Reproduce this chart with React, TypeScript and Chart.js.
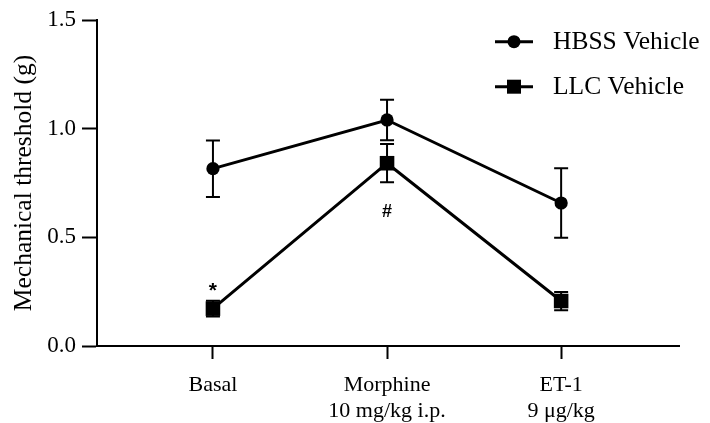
import React, { useEffect, useRef } from 'react';
import { Chart, registerables } from 'chart.js';

Chart.register(...registerables);

// ---- data ----
const categories: string[][] = [['Basal'], ['Morphine', '10 mg/kg i.p.'], ['ET-1', '9 μg/kg']];
const seriesNames = ['HBSS Vehicle', 'LLC Vehicle'];
const hbssMean = [0.816, 1.04, 0.658];
const hbssErr = [0.13, 0.093, 0.16];
const llcMean = [0.172, 0.841, 0.207];
const llcErr = [0.036, 0.088, 0.042];
const yTicks = [0, 0.5, 1.0, 1.5];
const yTitle = 'Mechanical threshold (g)';
// significance marks: [category index, text, series index, side]
const marks: [number, string, number, 'above' | 'below'][] = [
  [0, '*', 1, 'above'],
  [1, '#', 1, 'below'],
];

const SERIF = '"Liberation Serif", "Times New Roman", serif';
const BLACK = '#000';

const errPlugin = {
  id: 'extras',
  beforeDatasetsDraw(chart: any) {
    const { ctx } = chart;
    const xs = chart.scales.x;
    const ys = chart.scales.y;
    const sets = [
      [hbssMean, hbssErr],
      [llcMean, llcErr],
    ];
    ctx.save();
    ctx.strokeStyle = BLACK;
    ctx.lineWidth = 2;
    sets.forEach(([m, e]) => {
      m.forEach((v: number, i: number) => {
        const x = xs.getPixelForValue(i);
        const yt = ys.getPixelForValue(v + e[i]);
        const yb = ys.getPixelForValue(v - e[i]);
        ctx.beginPath();
        ctx.moveTo(x, yt);
        ctx.lineTo(x, yb);
        ctx.moveTo(x - 7, yt);
        ctx.lineTo(x + 7, yt);
        ctx.moveTo(x - 7, yb);
        ctx.lineTo(x + 7, yb);
        ctx.stroke();
      });
    });
    ctx.restore();
  },
  afterDatasetsDraw(chart: any) {
    const { ctx } = chart;
    const xs = chart.scales.x;
    const ys = chart.scales.y;
    const means = [hbssMean, llcMean];
    const errs = [hbssErr, llcErr];
    ctx.save();
    ctx.fillStyle = BLACK;
    ctx.textAlign = 'center';
    marks.forEach(([i, t, s, side]) => {
      const x = xs.getPixelForValue(i);
      if (side === 'above') {
        ctx.font = 'bold 21px "Liberation Sans", Arial, sans-serif';
        ctx.textBaseline = 'top';
        const y = ys.getPixelForValue(means[s][i] + errs[s][i]) - 20;
        ctx.fillText(t, x, y);
      } else {
        ctx.font = 'bold 18px "Liberation Sans", Arial, sans-serif';
        ctx.textBaseline = 'middle';
        const y = ys.getPixelForValue(means[s][i] - errs[s][i]) + 30;
        ctx.fillText(t, x, y);
      }
    });

    // legend
    const lx0 = 495;
    const lx1 = 533;
    const rows = [41.7, 86.7];
    ctx.strokeStyle = BLACK;
    ctx.lineWidth = 3;
    rows.forEach((y, k) => {
      ctx.beginPath();
      ctx.moveTo(lx0, y);
      ctx.lineTo(lx1, y);
      ctx.stroke();
      const cx = (lx0 + lx1) / 2;
      ctx.beginPath();
      if (k === 0) {
        ctx.arc(cx, y, 6.5, 0, Math.PI * 2);
      } else {
        ctx.rect(cx - 7, y - 7, 14, 14);
      }
      ctx.fill();
      ctx.font = `25.5px ${SERIF}`;
      ctx.textAlign = 'left';
      ctx.textBaseline = 'middle';
      ctx.fillText(seriesNames[k], 553, y + 1);
    });
    ctx.restore();
  },
};

export default function App() {
  const ref = useRef<HTMLCanvasElement>(null);
  useEffect(() => {
    if (!ref.current) return;
    const chart = new Chart(ref.current, {
      type: 'line',
      data: {
        datasets: [
          {
            label: seriesNames[0],
            data: hbssMean.map((v, i) => ({ x: i, y: v })),
            borderColor: BLACK,
            backgroundColor: BLACK,
            borderWidth: 3,
            pointStyle: 'circle',
            pointRadius: 6.6,
            pointBorderWidth: 0,
            tension: 0,
          },
          {
            label: seriesNames[1],
            data: llcMean.map((v, i) => ({ x: i, y: v })),
            borderColor: BLACK,
            backgroundColor: BLACK,
            borderWidth: 3,
            pointStyle: 'rect',
            pointRadius: 10.3,
            pointBorderWidth: 0,
            tension: 0,
          },
        ],
      },
      options: {
        animation: false,
        responsive: false,
        maintainAspectRatio: false,
        layout: { padding: { left: 0, top: 20, right: 31, bottom: 0 } },
        plugins: { legend: { display: false }, tooltip: { enabled: false } },
        scales: {
          x: {
            type: 'linear',
            min: -0.666,
            max: 2.677,
            afterBuildTicks: (s: any) => {
              s.ticks = categories.map((_, i) => ({ value: i }));
            },
            afterFit: (s: any) => {
              s.height = 77;
            },
            ticks: {
              callback: (v: any) => categories[Math.round(Number(v))] || '',
              color: BLACK,
              font: { family: SERIF, size: 22, lineHeight: 1.18 },
              padding: 13,
              maxRotation: 0,
              autoSkip: false,
            },
            grid: {
              drawOnChartArea: false,
              drawTicks: true,
              tickLength: 13,
              tickColor: BLACK,
              tickWidth: 2,
            },
            border: { display: true, color: BLACK, width: 2 },
          },
          y: {
            min: 0,
            max: 1.5,
            afterBuildTicks: (s: any) => {
              s.ticks = yTicks.map((v) => ({ value: v }));
            },
            afterFit: (s: any) => {
              s.width = 97;
            },
            ticks: {
              callback: (v: any) => Number(v).toFixed(1),
              color: BLACK,
              font: { family: SERIF, size: 23 },
              padding: 6,
            },
            grid: {
              drawOnChartArea: false,
              drawTicks: true,
              tickLength: 15,
              tickColor: BLACK,
              tickWidth: 2,
            },
            border: { display: true, color: BLACK, width: 2 },
            title: {
              display: true,
              text: yTitle,
              color: BLACK,
              font: { family: SERIF, size: 25.5 },
              padding: { top: 9, bottom: 0 },
            },
          },
        },
      },
      plugins: [errPlugin],
    } as any);
    return () => chart.destroy();
  }, []);
  return (
    <div style={{ position: 'absolute', left: 0, top: 0, width: 710, height: 423, background: '#fff' }}>
      <canvas ref={ref} width={710} height={423} style={{ width: 710, height: 423 }} />
    </div>
  );
}
